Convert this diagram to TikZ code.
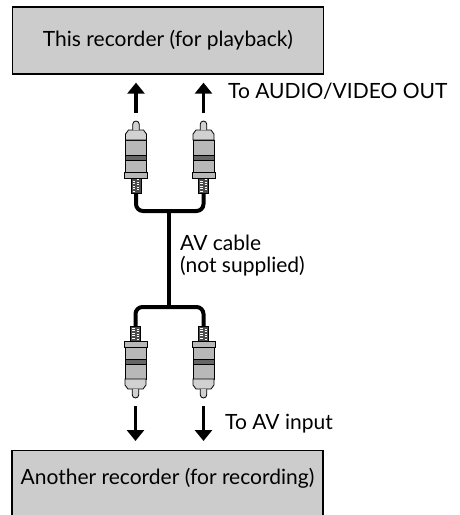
\documentclass[tikz,border=0pt]{standalone}
\usepackage{fontspec}
\setmainfont{Lato}
\usetikzlibrary{arrows.meta}
\definecolor{boxgray}{gray}{0.80}
\definecolor{headgray}{gray}{0.82}
\definecolor{bodygray}{gray}{0.72}
\definecolor{bandgray}{gray}{0.40}
\definecolor{relgray}{gray}{0.30}
\tikzset{
  txt/.style={font=\fontsize{21}{22}\selectfont},
  devbox/.style={draw=black, line width=1.3pt, fill=boxgray, minimum width=311pt, txt, inner sep=0pt},
  lbl/.style={txt, anchor=west, inner sep=0pt, align=left},
  cable/.style={line width=4pt, rounded corners=7pt},
  bigarrow/.style={line width=3.6pt, -{Triangle[width=17pt,length=11pt]}},
  plugline/.style={draw=black, line width=0.8pt},
  plug/.pic={
    \fill[relgray] (-5,0) rectangle (5,-15);
    \foreach \yy in {-2,-4.5,-7,-9.5,-12}{
      \draw[white, line width=0.7pt] (-3.2,\yy) -- (-1,\yy);
      \draw[white, line width=0.7pt] (1,\yy-1.2) -- (3.2,\yy-1.2);
    }
    \draw[plugline] (-5,0) rectangle (5,-15);
    \draw[plugline, fill=bodygray] (-11.5,-15) rectangle (11.5,-21);
    \draw[plugline, fill=bodygray] (-10.5,-21) rectangle (10.5,-33);
    \draw[plugline, fill=bandgray] (-10.5,-33) rectangle (10.5,-38);
    \draw[plugline, fill=bodygray] (-10.5,-38) rectangle (10.5,-53);
    \draw[plugline, fill=headgray] (-10.5,-53) -- (-10.5,-59) -- (-7.5,-63) -- (7.5,-63) -- (10.5,-59) -- (10.5,-53) -- cycle;
    \draw[plugline, fill=headgray] (-3.3,-63) -- (-3.3,-68.7) arc (180:360:3.3) -- (3.3,-63);
    \coordinate (-end) at (0,0);
    \coordinate (-tip) at (0,-72);
  }
}
\begin{document}
\begin{tikzpicture}[x=1pt,y=-1pt]
\useasboundingbox (0,0) rectangle (459,515);
% devices
\node[devbox, minimum height=67pt] (rec1) at (168,40.5) {This recorder (for playback)};
\begin{scope}
  \clip (0,0) rectangle (459,515);
  \node[devbox, anchor=north, minimum height=80pt, text height=12pt, text depth=25pt] (rec2) at (167.5,450) {Another recorder (for recording)};
\end{scope}
% cable junctions
\coordinate (j1) at (168.5,211);
\coordinate (j2) at (168.5,307);
% plugs
\pic (p1) at (136,193) {plug};
\pic (p2) at (203.5,193) {plug};
\pic[yscale=-1] (p3) at (135.5,326) {plug};
\pic[yscale=-1] (p4) at (203.5,326) {plug};
% cable
\draw[cable] (p1-end) |- (j1) -| (p2-end);
\draw[cable] (j1) -- (j2);
\draw[cable] (p3-end) |- (j2) -| (p4-end);
% arrows
\draw[bigarrow, shorten <=8pt, shorten >=8pt] (p1-tip) -- (p1-tip |- rec1.south);
\draw[bigarrow, shorten <=8pt, shorten >=8pt] (p2-tip) -- (p2-tip |- rec1.south);
\draw[bigarrow, shorten <=8pt, shorten >=9pt] (p3-tip) -- (p3-tip |- rec2.north);
\draw[bigarrow, shorten <=8pt, shorten >=9pt] (p4-tip) -- (p4-tip |- rec2.north);
% labels
\node[lbl] (lout) at (228,91) {To AUDIO/VIDEO OUT};
\node[lbl] (lcable) at (180,256) {AV cable\\(not supplied)};
\node[lbl] (lin) at (225,424) {To AV input};
\end{tikzpicture}
\end{document}
